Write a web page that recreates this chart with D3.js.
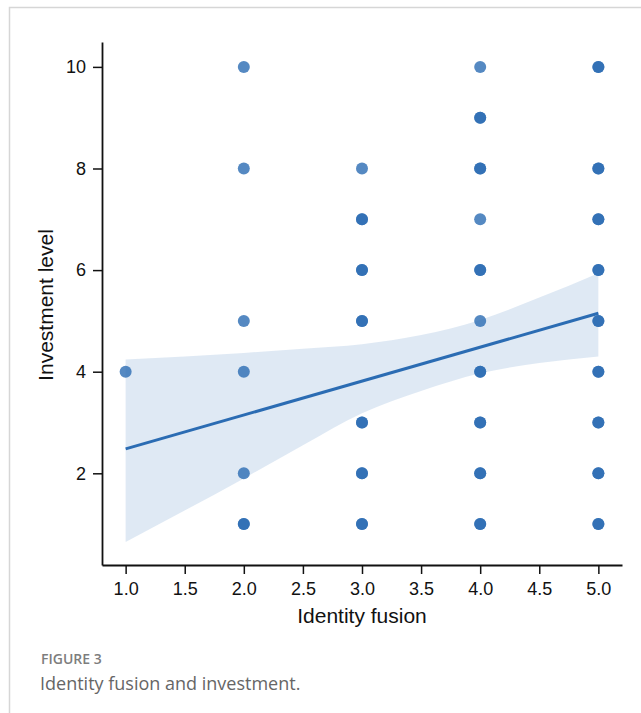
<!DOCTYPE html>
<html>
<head>
<meta charset="utf-8">
<script src="https://cdn.jsdelivr.net/npm/d3@7"></script>
<style>
  body { margin: 0; background: #fff; }
  svg { display: block; }
</style>
</head>
<body>
<svg id="chart" width="641" height="713"></svg>
<script>
// observations: fusion score, investment level, how many respondents sit on that spot (estimated from darkness)
var fusion     = [1, 2, 2, 2, 2, 2, 2, 3, 3, 3, 3, 3, 3, 3, 4, 4, 4, 4, 4, 4, 4, 4, 4, 4, 5, 5, 5, 5, 5, 5, 5, 5, 5];
var investment = [4, 1, 2, 4, 5, 8, 10, 1, 2, 3, 5, 6, 7, 8, 1, 2, 3, 4, 5, 6, 7, 8, 9, 10, 1, 2, 3, 4, 5, 6, 7, 8, 10];
var counts     = [1, 2, 1, 1, 1, 1, 1, 2, 2, 2, 2, 2, 2, 1, 2, 2, 2, 2, 1, 2, 1, 2, 2, 1, 2, 2, 2, 2, 2, 2, 2, 2, 2];

// fitted line and 95% band
var fitX   = [1, 5];
var fitY   = [2.48, 5.15];
var bandX  = [1, 2, 2.5, 3, 3.5, 4, 4.5, 5];
var bandLo = [0.65, 1.9, 2.55, 3.18, 3.62, 3.97, 4.17, 4.30];
var bandHi = [4.24, 4.37, 4.45, 4.54, 4.72, 5.02, 5.46, 5.94];

var xTicks = [1.0, 1.5, 2.0, 2.5, 3.0, 3.5, 4.0, 4.5, 5.0];
var yTicks = [2, 4, 6, 8, 10];

var svg = d3.select("#chart");
var blue = "#2b6cb3";
var font = "'Liberation Sans', Arial, sans-serif";

// figure frame (top and left rule)
svg.append("path")
    .attr("d", "M9.5,713V7.5H641")
    .attr("fill", "none")
    .attr("stroke", "#d6d6d6")
    .attr("stroke-width", 1.5);

var x = d3.scaleLinear().domain([0.8, 5.2]).range([102, 622]);
var y = d3.scaleLinear().domain([0.195, 10.49]).range([565, 42]);

var band = d3.area()
    .x(function(d, i) { return x(bandX[i]); })
    .y0(function(d, i) { return y(bandLo[i]); })
    .y1(function(d, i) { return y(bandHi[i]); })
    .curve(d3.curveMonotoneX);

svg.append("path")
    .datum(bandX)
    .attr("d", band)
    .attr("fill", blue)
    .attr("fill-opacity", 0.15);

// one circle per respondent so stacked spots darken
var obs = [];
fusion.forEach(function(f, i) {
  for (var k = 0; k < counts[i]; k++) obs.push({ x: f, y: investment[i] });
});

svg.append("g").selectAll("circle")
    .data(obs)
  .enter().append("circle")
    .attr("cx", function(d) { return x(d.x); })
    .attr("cy", function(d) { return y(d.y); })
    .attr("r", 6)
    .attr("fill", blue)
    .attr("fill-opacity", 0.8);

svg.append("path")
    .datum(fitX)
    .attr("d", d3.line()
      .x(function(d) { return x(d); })
      .y(function(d, i) { return y(fitY[i]); }))
    .attr("fill", "none")
    .attr("stroke", blue)
    .attr("stroke-width", 3);

var xAxis = svg.append("g")
    .attr("transform", "translate(0,565)")
    .call(d3.axisBottom(x).tickValues(xTicks).tickFormat(d3.format(".1f")).tickSizeOuter(0).tickSizeInner(9).tickPadding(8));

var yAxis = svg.append("g")
    .attr("transform", "translate(102,0)")
    .call(d3.axisLeft(y).tickValues(yTicks).tickSizeOuter(0).tickSizeInner(9).tickPadding(7));

[xAxis, yAxis].forEach(function(g) {
  g.select(".domain").attr("stroke", "#111").attr("stroke-width", 1.8);
  g.selectAll(".tick line").attr("stroke", "#111").attr("stroke-width", 1.5);
  g.selectAll(".tick text")
    .attr("fill", "#111")
    .style("font-family", font)
    .style("font-size", "18px");
});

svg.append("text")
    .attr("x", 362)
    .attr("y", 623)
    .attr("text-anchor", "middle")
    .style("font-family", font)
    .style("font-size", "21px")
    .attr("fill", "#111")
    .text("Identity fusion");

svg.append("text")
    .attr("transform", "translate(53,305) rotate(-90)")
    .attr("text-anchor", "middle")
    .style("font-family", font)
    .style("font-size", "21px")
    .attr("fill", "#111")
    .text("Investment level");

svg.append("text")
    .attr("x", 41)
    .attr("y", 664)
    .style("font-family", "'Open Sans', sans-serif")
    .style("font-size", "14px")
    .style("font-weight", 600)
    .attr("fill", "#7d7d7d")
    .text("FIGURE 3");

svg.append("text")
    .attr("x", 40)
    .attr("y", 690)
    .style("font-family", "'Open Sans', sans-serif")
    .style("font-size", "18px")
    .attr("fill", "#666")
    .text("Identity fusion and investment.");
</script>
</body>
</html>
